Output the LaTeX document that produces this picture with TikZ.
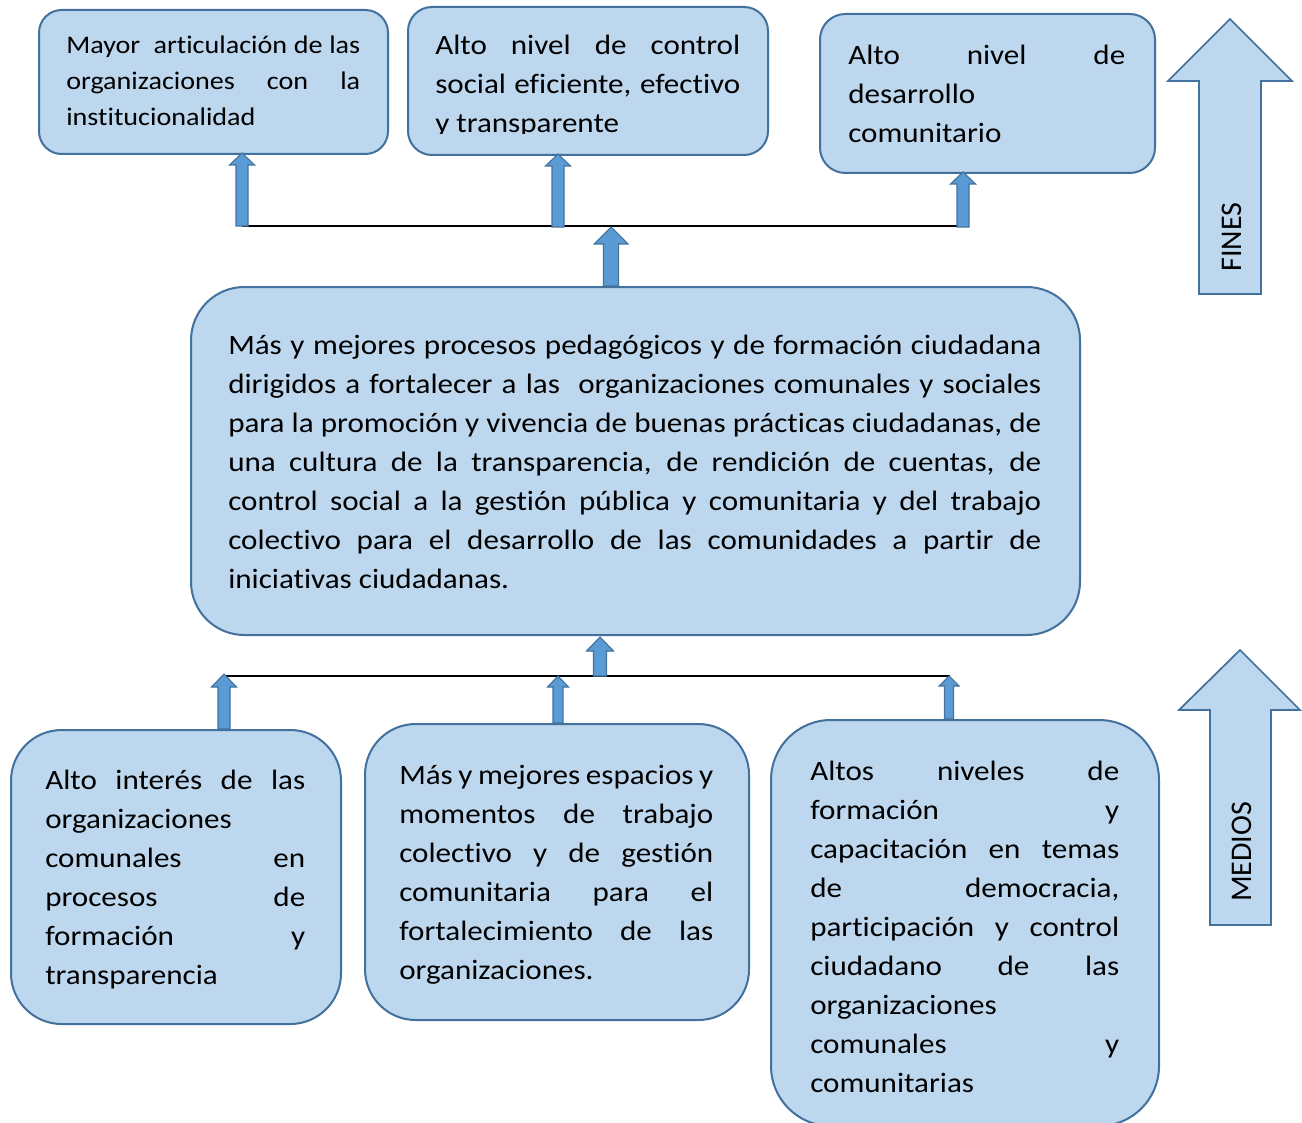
\documentclass[tikz,border=0pt]{standalone}
\usepackage{fontspec}
\setmainfont{Carlito}[Ligatures=NoCommon]
\newfontfamily\boxfont{Carlito}[Ligatures=NoCommon, FakeStretch=1.11]
\definecolor{boxfill}{HTML}{BDD7EE}
\definecolor{boxline}{HTML}{41719C}
\definecolor{arrfill}{HTML}{5B9BD5}
\newlength\tw
\newcommand\JL[1]{\hbox to \tw{\spaceskip=0pt\xspaceskip=0pt #1}}
\newcommand\LL[1]{\hbox to \tw{\spaceskip=0pt\xspaceskip=0pt #1\hfil}}
% block up-arrow: x, ybottom, ytip, shaft half width, head half width, head length
\newcommand\blockup[7][]{%
  \draw[#1] (#2-#5,#3) -- (#2-#5,#4+#7) -- (#2-#6,#4+#7) -- (#2,#4)
    -- (#2+#6,#4+#7) -- (#2+#5,#4+#7) -- (#2+#5,#3) -- cycle;}
\tikzset{
  boxst/.style={draw=boxline, fill=boxfill, line width=1.5pt, rectangle, inner sep=0pt, anchor=north west},
  txt/.style={anchor=base west, inner sep=0pt, text width=\tw, font=\boxfont\fontsize{21pt}{29.25pt}\selectfont},
  txtsmall/.style={anchor=base west, inner sep=0pt, text width=\tw, font=\boxfont\fontsize{19pt}{27pt}\selectfont},
  arrst/.style={draw=boxline, fill=arrfill, line width=0.8pt, line join=miter},
  bigarr/.style={draw=boxline, fill=boxfill, line width=1.3pt, line join=miter},
  joinline/.style={draw=black, line width=0.9pt},
  lbl/.style={rotate=90, inner sep=0pt, font=\fontsize{22.5pt}{27pt}\selectfont}
}
\begin{document}
\begin{tikzpicture}[x=0.75pt, y=-0.75pt]
\useasboundingbox (0,0) rectangle (1302,1123);
\fill[white] (0,0) rectangle (1302,1123);

% ---------- top boxes (FINES) ----------
\node[boxst, rounded corners=17pt, minimum width=349*0.75pt, minimum height=144*0.75pt] (A) at (38,9) {};
\setlength\tw{220.5pt}
\node[txtsmall] (At) at (66,54) {%
\JL{Mayor\ \ articulación de las}
\JL{organizaciones con la}
\LL{institucionalidad}};

\node[boxst, rounded corners=18pt, minimum width=360*0.75pt, minimum height=148*0.75pt] (B) at (407,6) {};
\setlength\tw{228.75pt}
\begin{scope}
\clip (407,6) rectangle (767,133.5);
\node[txt] (Bt) at (435,55) {%
\JL{Alto nivel de control}
\JL{social eficiente, efectivo}
\LL{y transparente}};
\end{scope}

\node[boxst, rounded corners=19pt, minimum width=335*0.75pt, minimum height=159*0.75pt] (C) at (819,13) {};
\setlength\tw{207.75pt}
\node[txt] (Ct) at (848,65) {%
\JL{Alto nivel de}
\LL{desarrollo}
\LL{comunitario}};

% ---------- centre box ----------
\node[boxst, rounded corners=40pt, minimum width=889*0.75pt, minimum height=348*0.75pt] (M) at (190,286) {};
\setlength\tw{609.75pt}
\node[txt] (Mt) at (228,354) {%
\JL{Más y mejores procesos pedagógicos y de formación ciudadana}
\JL{dirigidos a fortalecer a las\ \ organizaciones comunales y sociales}
\JL{para la promoción y vivencia de buenas prácticas ciudadanas, de}
\JL{una cultura de la transparencia, de rendición de cuentas, de}
\JL{control social a la gestión pública y comunitaria y del trabajo}
\JL{colectivo para el desarrollo de las comunidades a partir de}
\LL{iniciativas ciudadanas.}};

% ---------- bottom boxes (MEDIOS) ----------
\node[boxst, rounded corners=38pt, minimum width=330*0.75pt, minimum height=294*0.75pt] (D) at (10,729) {};
\setlength\tw{195pt}
\node[txt] (Dt) at (45,789) {%
\JL{Alto interés de las}
\LL{organizaciones}
\JL{comunales en}
\JL{procesos de}
\JL{formación y}
\LL{transparencia}};

\node[boxst, rounded corners=38pt, minimum width=384*0.75pt, minimum height=296*0.75pt] (E) at (364,723) {};
\setlength\tw{235.5pt}
\node[txt] (Et) at (399,784) {%
\JL{Más y mejores espacios y}
\JL{momentos de trabajo}
\JL{colectivo y de gestión}
\JL{comunitaria para el}
\JL{fortalecimiento de las}
\LL{organizaciones.}};

\node[boxst, rounded corners=45pt, minimum width=388*0.75pt, minimum height=406*0.75pt] (F) at (770,719) {};
\setlength\tw{231.75pt}
\node[txt] (Ft) at (810,780) {%
\JL{Altos niveles de}
\JL{formación y}
\JL{capacitación en temas}
\JL{de democracia,}
\JL{participación y control}
\JL{ciudadano de las}
\LL{organizaciones}
\JL{comunales y}
\LL{comunitarias}};

% ---------- connector lines ----------
\coordinate (tl) at (242,226);
\coordinate (tr) at (963,226);
\draw[joinline] (tl) -- (tr);
\coordinate (bl) at (224,676);
\coordinate (br) at (950,676);
\draw[joinline] (bl) -- (br);

% ---------- small block arrows ----------
\blockup[arrst]{242}{226}{153}{6}{12.5}{12}
\blockup[arrst]{558}{227}{154}{6}{12.5}{12}
\blockup[arrst]{963}{227}{172}{6}{12.5}{12}
\blockup[arrst]{611}{286}{227}{7.5}{17}{17}

\blockup[arrst]{600}{676}{637}{6.5}{13.5}{14}
\blockup[arrst]{224}{729}{674}{6}{12.5}{13}
\blockup[arrst]{558}{723}{676}{5}{10.5}{11}
\blockup[arrst]{949}{719}{676}{4.5}{10}{10}

% ---------- big side arrows ----------
\draw[bigarr] (1199,294) -- (1199,81) -- (1168,81) -- (1230,19) -- (1292,81) -- (1261,81) -- (1261,294) -- cycle;
\node[lbl] (fines) at (1232,237) {FINES};
\draw[bigarr] (1210,925) -- (1210,710) -- (1179,710) -- (1240,650) -- (1300,710) -- (1271,710) -- (1271,925) -- cycle;
\node[lbl] (medios) at (1242,852) {MEDIOS};
\end{tikzpicture}
\end{document}
